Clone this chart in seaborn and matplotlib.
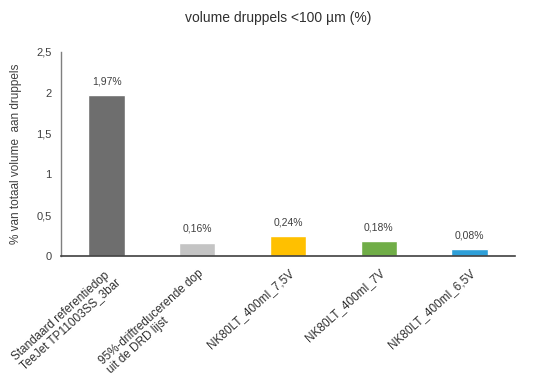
import matplotlib
matplotlib.use("Agg")
import matplotlib.pyplot as plt
import seaborn as sns
import pandas as pd

categories = ["Standaard referentiedop\nTeeJet TP11003SS_3bar",
              "95%-driftreducerende dop\nuit de DRD lijst",
              "NK80LT_400ml_7,5V",
              "NK80LT_400ml_7V",
              "NK80LT_400ml_6,5V"]
values = [1.97, 0.16, 0.24, 0.18, 0.08]
value_labels = ["1,97%", "0,16%", "0,24%", "0,18%", "0,08%"]
yticks = [0, 0.5, 1, 1.5, 2, 2.5]
ytick_labels = ["0", "0,5", "1", "1,5", "2", "2,5"]
colors = ["#6e6e6e", "#c4c4c4", "#ffc000", "#70ad47", "#2e9fd8"]

sns.set_theme(style="white")
plt.rcParams['font.family'] = ['Liberation Sans', 'DejaVu Sans']

df = pd.DataFrame({"cat": categories, "val": values})
fig = plt.figure(figsize=(5.56, 3.79), dpi=100)
ax = fig.add_axes([0.11, 0.325, 0.816, 0.538])
sns.barplot(data=df, x="cat", y="val", hue="cat", palette=colors, legend=False,
            width=0.4, ax=ax, saturation=1)

for i, (v, lab) in enumerate(zip(values, value_labels)):
    ax.text(i, v + 0.11, lab, ha="center", va="bottom", fontsize=7.5, color="#404040")

ax.set_ylim(0, 2.5)
ax.set_xlim(-0.5, 4.5)
ax.set_yticks(yticks)
ax.set_yticklabels(ytick_labels, fontsize=8, color="#404040")
ax.set_xticks(range(len(categories)))
ax.set_xticklabels(categories, rotation=42, ha="right", rotation_mode="anchor",
                   fontsize=8.5, color="#303030", linespacing=1.05)
for t in ax.get_xticklabels():
    t.set_multialignment("left")
ax.tick_params(axis="x", length=0, pad=8)
ax.tick_params(axis="y", length=0, pad=7)
ax.set_xlabel("")
ax.set_ylabel("% van totaal volume  aan druppels", fontsize=8.5, color="#404040", labelpad=10)
for s in ["top", "right"]:
    ax.spines[s].set_visible(False)
ax.spines["left"].set_color("#7f7f7f")
ax.spines["left"].set_linewidth(1)
ax.spines["bottom"].set_color("#404040")
ax.spines["bottom"].set_linewidth(1.2)
fig.suptitle("volume druppels <100 µm (%)", fontsize=10, color="#303030", y=0.97)
fig.savefig("out.png", dpi=100)
